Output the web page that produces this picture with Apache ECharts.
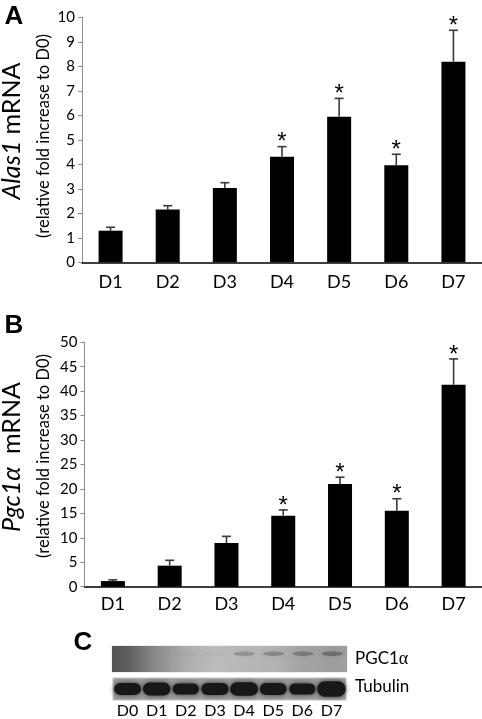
<!DOCTYPE html>
<html>
<head>
<meta charset="utf-8">
<script src="https://cdn.jsdelivr.net/npm/echarts@6/dist/echarts.min.js"></script>
<style>
html,body{margin:0;padding:0;background:#fff;}
#chart{width:482px;height:719px;}
</style>
</head>
<body>
<div id="chart"></div>
<script>
// ---- data ----
var categories = ['D1', 'D2', 'D3', 'D4', 'D5', 'D6', 'D7'];
var alasMean = [1.29, 2.15, 3.03, 4.31, 5.94, 3.96, 8.19];
var alasErr  = [0.14, 0.16, 0.22, 0.41, 0.75, 0.45, 1.28];
var alasSig  = [0, 0, 0, 1, 1, 1, 1];
var pgcMean  = [1.15, 4.3, 8.94, 14.5, 21.0, 15.55, 41.3];
var pgcErr   = [0.25, 1.1, 1.36, 1.2, 1.4, 2.45, 5.3];
var pgcSig   = [0, 0, 0, 1, 1, 1, 1];
var alasAxis = {min: 0, max: 10, interval: 1};
var pgcAxis  = {min: 0, max: 50, interval: 5};
var blotLanes = ['D0', 'D1', 'D2', 'D3', 'D4', 'D5', 'D6', 'D7'];
// PGC1a blot: background lightness per lane, band darkness per lane
var pgcShade = [0.36, 0.54, 0.68, 0.74, 0.72, 0.70, 0.64, 0.62];
var pgcBand  = [0.00, 0.00, 0.05, 0.05, 0.30, 0.35, 0.40, 0.50];
// Tubulin blot: band width and height (relative)
var tubWidth  = [0.92, 0.94, 0.90, 0.94, 0.96, 0.92, 0.90, 0.98];
var tubHeight = [0.55, 0.58, 0.50, 0.55, 0.62, 0.55, 0.50, 0.70];

var FONT = 'Lato';
var chart = echarts.init(document.getElementById('chart'), null, {renderer: 'canvas'});

function errData(mean, err, sig) {
  return mean.map(function (m, i) { return [i, m, err[i], sig[i]]; });
}
function errRender(params, api) {
  var i = api.value(0), m = api.value(1), e = api.value(2), s = api.value(3);
  var p0 = api.coord([i, m]);
  var p1 = api.coord([i, m + e]);
  var children = [
    {type: 'line', shape: {x1: p0[0], y1: p0[1], x2: p1[0], y2: p1[1]}, style: {stroke: '#3a3a3a', lineWidth: 1.6}},
    {type: 'line', shape: {x1: p1[0] - 4.5, y1: p1[1], x2: p1[0] + 4.5, y2: p1[1]}, style: {stroke: '#3a3a3a', lineWidth: 1.6}}
  ];
  if (s) {
    children.push({type: 'text', style: {text: '*', x: p1[0], y: p1[1] - 4, align: 'center', verticalAlign: 'middle', font: '24px "Liberation Sans"', fill: '#000'}});
  }
  return {type: 'group', children: children};
}
function shadeColor(v) {
  var c = Math.round(v * 255);
  return 'rgb(' + c + ',' + c + ',' + c + ')';
}
function pgcRender(params, api) {
  var i = api.value(0), sh = api.value(1), band = api.value(2);
  var n = pgcShade.length;
  var c = api.coord([i, 0.5]);
  var w = api.size([1, 0])[0];
  var top = api.coord([i, 1])[1], bot = api.coord([i, 0])[1];
  var left = i > 0 ? (pgcShade[i - 1] + sh) / 2 : sh * 0.9;
  var right = i < n - 1 ? (pgcShade[i + 1] + sh) / 2 : sh;
  var children = [{
    type: 'rect', shape: {x: c[0] - w / 2 - 0.5, y: top, width: w + 1, height: bot - top},
    style: {fill: new echarts.graphic.LinearGradient(0, 0, 1, 0, [
      {offset: 0, color: shadeColor(left)}, {offset: 0.5, color: shadeColor(sh)}, {offset: 1, color: shadeColor(right)}])}
  }];
  if (band > 0) {
    var by = api.coord([i, 0.7])[1];
    children.push({type: 'ellipse', shape: {cx: c[0], cy: by, rx: w * 0.36, ry: 2.2},
      style: {fill: 'rgba(70,70,70,' + band + ')', shadowBlur: 6, shadowColor: 'rgba(70,70,70,' + band + ')'}});
  }
  return {type: 'group', children: children};
}
function tubRender(params, api) {
  var i = api.value(0), bw = api.value(1), bh = api.value(2);
  var c = api.coord([i, 0.5]);
  var w = api.size([1, 0])[0] * bw;
  var h = api.size([0, bh])[1];
  return {type: 'rect', shape: {x: c[0] - w / 2, y: c[1] - h / 2, width: w, height: h, r: h / 2},
    style: {fill: '#181818', shadowBlur: 5, shadowColor: 'rgba(20,20,20,0.8)'}};
}

var yAxisCommon = {
  type: 'value',
  axisLine: {show: true, lineStyle: {color: '#8c8c8c', width: 1}},
  axisTick: {show: true, length: 4, lineStyle: {color: '#8c8c8c'}},
  axisLabel: {color: '#000', fontSize: 15, fontFamily: FONT, margin: 7},
  splitLine: {show: false}
};
function xAxisFor(grid, margin) {
  return {
    type: 'category', gridIndex: grid, data: categories,
    axisLine: {show: true, lineStyle: {color: '#000', width: 1.5}},
    axisTick: {show: false},
    axisLabel: {color: '#000', fontSize: 18, fontFamily: FONT, margin: margin}
  };
}

var option = {
  animation: false,
  backgroundColor: '#fff',
  grid: [
    {left: 82, top: 17.3, width: 404.6, height: 245},
    {left: 84.5, top: 342.3, width: 403.2, height: 244.4},
    {left: 112, top: 646, width: 235, height: 26, show: true, borderColor: '#e0e0e0', borderWidth: 1, backgroundColor: '#aaa'},
    {left: 113, top: 678, width: 233, height: 23.5, show: true, borderColor: '#c4c4c4', borderWidth: 1, backgroundColor: '#9e9e9e'}
  ],
  xAxis: [
    xAxisFor(0, 11),
    xAxisFor(1, 8),
    {type: 'category', gridIndex: 2, data: blotLanes, show: false},
    {type: 'category', gridIndex: 3, data: blotLanes, axisLine: {show: false}, axisTick: {show: false},
      axisLabel: {color: '#000', fontSize: 16, fontFamily: FONT, margin: 3}}
  ],
  yAxis: [
    Object.assign({gridIndex: 0}, yAxisCommon, alasAxis),
    Object.assign({gridIndex: 1}, yAxisCommon, pgcAxis),
    {type: 'value', gridIndex: 2, min: 0, max: 1, show: false},
    {type: 'value', gridIndex: 3, min: 0, max: 1, show: false}
  ],
  series: [
    {type: 'bar', xAxisIndex: 0, yAxisIndex: 0, data: alasMean, barWidth: 24, itemStyle: {color: '#000'}},
    {type: 'custom', xAxisIndex: 0, yAxisIndex: 0, data: errData(alasMean, alasErr, alasSig), renderItem: errRender, encode: {x: 0, y: 1}, z: 3},
    {type: 'bar', xAxisIndex: 1, yAxisIndex: 1, data: pgcMean, barWidth: 24, itemStyle: {color: '#000'}},
    {type: 'custom', xAxisIndex: 1, yAxisIndex: 1, data: errData(pgcMean, pgcErr, pgcSig), renderItem: errRender, encode: {x: 0, y: 1}, z: 3},
    {type: 'custom', xAxisIndex: 2, yAxisIndex: 2, data: blotLanes.map(function (l, i) { return [i, pgcShade[i], pgcBand[i]]; }), renderItem: pgcRender, encode: {x: 0}, clip: true},
    {type: 'custom', xAxisIndex: 3, yAxisIndex: 3, data: blotLanes.map(function (l, i) { return [i, tubWidth[i], tubHeight[i]]; }), renderItem: tubRender, encode: {x: 0}}
  ],
  graphic: [
    {type: 'text', x: 14, y: 17, style: {text: 'A', font: 'bold 26px "Liberation Sans"', fill: '#000', align: 'center', verticalAlign: 'middle'}},
    {type: 'text', x: 14, y: 326, style: {text: 'B', font: 'bold 26px "Liberation Sans"', fill: '#000', align: 'center', verticalAlign: 'middle'}},
    {type: 'text', x: 83, y: 643, style: {text: 'C', font: 'bold 26px "Liberation Sans"', fill: '#000', align: 'center', verticalAlign: 'middle'}},
    {type: 'text', x: 12, y: 131, rotation: Math.PI / 2, style: {
      text: '{i|Alas1} mRNA', font: '25px ' + FONT, fill: '#000', align: 'center', verticalAlign: 'middle',
      rich: {i: {fontStyle: 'italic', fontSize: 25, fontFamily: FONT}}}},
    {type: 'text', x: 44, y: 136, rotation: Math.PI / 2, style: {
      text: '(relative fold increase to D0)', font: '16.5px ' + FONT, fill: '#000', align: 'center', verticalAlign: 'middle'}},
    {type: 'text', x: 12, y: 457, rotation: Math.PI / 2, style: {
      text: '{i|Pgc1α}  mRNA', font: '25px ' + FONT, fill: '#000', align: 'center', verticalAlign: 'middle',
      rich: {i: {fontStyle: 'italic', fontSize: 25, fontFamily: FONT}}}},
    {type: 'text', x: 44, y: 456, rotation: Math.PI / 2, style: {
      text: '(relative fold increase to D0)', font: '16.5px ' + FONT, fill: '#000', align: 'center', verticalAlign: 'middle'}},
    {type: 'text', x: 355, y: 659, style: {
      text: 'PGC1{a|α}', font: '17px ' + FONT, fill: '#000', align: 'left', verticalAlign: 'middle',
      rich: {a: {fontFamily: 'Liberation Serif', fontSize: 18}}}},
    {type: 'text', x: 355, y: 687, style: {
      text: 'Tubulin', font: '17px ' + FONT, fill: '#000', align: 'left', verticalAlign: 'middle'}}
  ]
};
chart.setOption(option);
</script>
</body>
</html>
